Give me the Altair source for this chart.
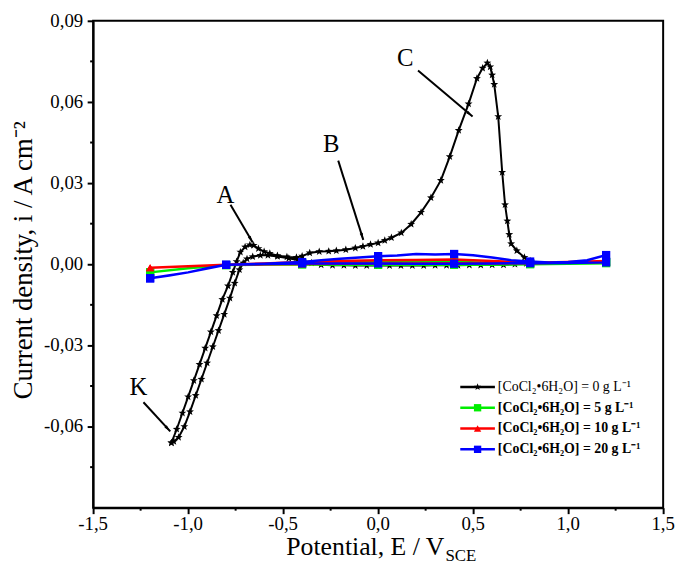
import math
import pandas as pd
import altair as alt

# ---------------- data ----------------
# [CoCl2.6H2O] = 0 g/L  (cyclic voltammogram, ordered along the scan)
E0 = [-1.088, -1.06, -1.03, -1.00, -0.97, -0.94, -0.91, -0.88, -0.85, -0.82,
      -0.79, -0.765, -0.745, -0.725, -0.70, -0.675, -0.655, -0.63, -0.60, -0.57,
      -0.53, -0.48, -0.43, -0.40, -0.36, -0.31, -0.26, -0.22, -0.17, -0.12,
      -0.08, -0.04, 0.00, 0.035, 0.07, 0.122, 0.174, 0.226, 0.278, 0.33,
      0.377, 0.424, 0.476, 0.52, 0.55, 0.575, 0.59, 0.60, 0.611, 0.632,
      0.653, 0.668, 0.68, 0.69, 0.70, 0.73, 0.77, 0.80,
      0.78, 0.72, 0.66, 0.60, 0.54, 0.48, 0.42, 0.36, 0.30, 0.24, 0.18, 0.12,
      0.06, 0.00, -0.06, -0.12, -0.18, -0.24, -0.30, -0.35, -0.42, -0.47,
      -0.53, -0.58, -0.62, -0.66, -0.69, -0.71, -0.73, -0.755, -0.78, -0.81,
      -0.84, -0.87, -0.90, -0.93, -0.96, -0.99, -1.02, -1.05, -1.075, -1.088]
I0 = [-0.066, -0.061, -0.055, -0.049, -0.043, -0.037, -0.031, -0.025, -0.019, -0.013,
      -0.008, -0.003, 0.001, 0.0045, 0.0064, 0.0072, 0.0070, 0.0058, 0.0047, 0.0040,
      0.0032, 0.0027, 0.0025, 0.0030, 0.0042, 0.0047, 0.0048, 0.0050, 0.0054, 0.0060,
      0.0066, 0.0073, 0.0079, 0.0088, 0.0098, 0.0116, 0.0148, 0.0192, 0.0246, 0.0310,
      0.0398, 0.0495, 0.0593, 0.0687, 0.0725, 0.0744, 0.0730, 0.0700, 0.0665, 0.0546,
      0.0340, 0.0220, 0.0160, 0.0110, 0.0076, 0.0050, 0.0025, 0.0012,
      0.0003, 0.0000, -0.0002, -0.0002, -0.0003, -0.0003, -0.0004, -0.0004, -0.0004, -0.0005, -0.0005, -0.0005,
      -0.0005, -0.0005, -0.0005, -0.0005, -0.0004, -0.0004, -0.0002, 0.0005, 0.0015, 0.0022,
      0.0029, 0.0033, 0.0033, 0.0028, 0.0020, 0.0005, -0.0020, -0.0070, -0.0125, -0.0185,
      -0.0245, -0.0305, -0.0365, -0.0425, -0.0485, -0.0545, -0.0600, -0.0640, -0.0655, -0.066]

# [CoCl2.6H2O] = 5 g/L
E5 = [-1.2, -1.0, -0.8, -0.6, -0.4, -0.2, 0.0, 0.2, 0.4, 0.6, 0.8, 1.0, 1.2,
      1.2, 1.0, 0.8, 0.6, 0.4, 0.2, 0.0, -0.2, -0.4, -0.6, -0.8, -1.0, -1.2]
I5 = [-0.0030, -0.0015, -0.0003, 0.0000, 0.0005, 0.0008, 0.0010, 0.0010, 0.0009, 0.0005, 0.0002, 0.0004, 0.0009,
      0.0004, 0.0002, 0.0000, -0.0002, -0.0002, -0.0002, -0.0002, -0.0002, -0.0001, -0.0001, -0.0003, -0.0015, -0.0030]

# [CoCl2.6H2O] = 10 g/L
E10 = [-1.2, -1.0, -0.8, -0.6, -0.4, -0.2, 0.0, 0.2, 0.4, 0.6, 0.8, 1.0, 1.2,
       1.2, 1.0, 0.8, 0.6, 0.4, 0.2, 0.0, -0.2, -0.4, -0.6, -0.8, -1.0, -1.2]
I10 = [-0.0013, -0.0007, -0.0002, 0.0003, 0.0008, 0.0012, 0.0015, 0.0016, 0.0018, 0.0012, 0.0006, 0.0008, 0.0012,
       0.0008, 0.0006, 0.0004, 0.0003, 0.0004, 0.0003, 0.0003, 0.0002, 0.0001, 0.0000, -0.0002, -0.0007, -0.0013]

# [CoCl2.6H2O] = 20 g/L
E20 = [-1.2, -1.1, -1.0, -0.9, -0.8, -0.6, -0.4, -0.3, -0.2, -0.1, 0.0, 0.1, 0.2, 0.3, 0.4,
       0.5, 0.6, 0.7, 0.8, 0.9, 1.0, 1.1, 1.2,
       1.2, 1.0, 0.8, 0.6, 0.4, 0.2, 0.0, -0.2, -0.4, -0.6, -0.8, -1.0, -1.2]
I20 = [-0.0052, -0.0042, -0.0030, -0.0015, -0.0002, 0.0002, 0.0008, 0.0015, 0.0020, 0.0025, 0.0030, 0.0032, 0.0038, 0.0036, 0.0038,
       0.0033, 0.0025, 0.0015, 0.0010, 0.0007, 0.0008, 0.0015, 0.0034,
       0.0007, 0.0005, 0.0004, 0.0003, 0.0002, 0.0002, 0.0003, 0.0003, 0.0003, 0.0001, -0.0002, -0.0030, -0.0052]

legend_labels = ["[CoCl₂•6H₂O] = 0 g L⁻¹", "[CoCl₂•6H₂O] = 5 g L⁻¹",
                 "[CoCl₂•6H₂O] = 10 g L⁻¹", "[CoCl₂•6H₂O] = 20 g L⁻¹"]

# peak annotations
ann_labels = ["A", "B", "C", "K"]
ann_E = [-0.803, -0.247, 0.143, -1.261]
ann_I = [0.0257, 0.0445, 0.0763, -0.0455]
# arrows (start -> end)
arr_E1 = [-0.777, -0.21, 0.21, -1.235]
arr_I1 = [0.0220, 0.0383, 0.0716, -0.0510]
arr_E2 = [-0.660, -0.078, 0.497, -1.094]
arr_I2 = [0.0080, 0.0090, 0.0546, -0.0618]

x_ticks = [-1.5, -1.0, -0.5, 0.0, 0.5, 1.0, 1.5]
x_tick_labels = ["-1,5", "-1,0", "-0,5", "0,0", "0,5", "1,0", "1,5"]
x_minor = [-1.25, -0.75, -0.25, 0.25, 0.75, 1.25]
y_ticks = [-0.06, -0.03, 0.0, 0.03, 0.06, 0.09]
y_tick_labels = ["-0,06", "-0,03", "0,00", "0,03", "0,06", "0,09"]
y_minor = [-0.075, -0.045, -0.015, 0.015, 0.045, 0.075]

x_title = "Potential, E / V"
x_title_sub = "SCE"
y_title = "Current density, i / A cm⁻²"

# ---------------- layout ----------------
W, H = 576, 492
XD = [-1.5, 1.5]
YD = [-0.09, 0.09]
FONT = "Liberation Serif"

xs = alt.Scale(domain=XD, nice=False, zero=False)
ys = alt.Scale(domain=YD, nice=False, zero=False)

x_axis = alt.Axis(values=x_ticks, title=None, labels=False)
y_axis = alt.Axis(values=y_ticks, title=None, labels=False)


def X(f):
    return alt.X(f, type="quantitative", scale=xs, axis=x_axis)


def Y(f):
    return alt.Y(f, type="quantitative", scale=ys, axis=y_axis)


def mk_star():
    pts = []
    for k in range(10):
        a = math.radians(-90 + 36 * k)
        r = 1.0 if k % 2 == 0 else 0.42
        pts.append(f"{r*math.cos(a):.3f},{r*math.sin(a):.3f}")
    return "M" + "L".join(pts) + "Z"


STAR = mk_star()
HEAD = "M0,0L0.42,1.8L-0.42,1.8Z"


def series_df(E, I):
    return pd.DataFrame({"E": E, "i": I, "k": list(range(len(E)))})


layers = []

# black curve
d0 = series_df(E0, I0)
layers.append(alt.Chart(d0).mark_line(color="black", strokeWidth=2)
              .encode(x=X("E"), y=Y("i"), order="k:Q"))
layers.append(alt.Chart(d0).mark_point(shape=STAR, filled=True, color="black", size=70, opacity=1)
              .encode(x=X("E"), y=Y("i")))

# minor ticks
layers.append(alt.Chart(pd.DataFrame({"v": y_minor})).mark_rule(color="black", strokeWidth=2)
              .encode(y=Y("v"), x=alt.value(-3), x2=alt.value(0)))
layers.append(alt.Chart(pd.DataFrame({"v": x_minor})).mark_rule(color="black", strokeWidth=2)
              .encode(x=X("v"), y=alt.value(H), y2=alt.value(H + 3)))

# tick labels (serif text marks)
layers.append(alt.Chart(pd.DataFrame({"v": x_ticks, "t": x_tick_labels}))
              .mark_text(font=FONT, fontSize=19, align="center", baseline="middle", color="black")
              .encode(x=X("v"), y=alt.value(H + 17), text="t:N"))
layers.append(alt.Chart(pd.DataFrame({"v": y_ticks, "t": y_tick_labels}))
              .mark_text(font=FONT, fontSize=19, align="right", baseline="middle", color="black")
              .encode(y=Y("v"), x=alt.value(-10), text="t:N"))

series = [(E5, I5, "#00ee00", "square"), (E10, I10, "#ff0000", "triangle-up"),
          (E20, I20, "#0000ff", "square")]
for E, I, col, shp in series:
    d = series_df(E, I)
    layers.append(alt.Chart(d).mark_line(color=col, strokeWidth=2.5)
                  .encode(x=X("E"), y=Y("i"), order="k:Q"))
    dm = d[[abs(e / 0.4 - round(e / 0.4)) < 1e-6 for e in d["E"]]]
    layers.append(alt.Chart(dm).mark_point(shape=shp, filled=True, color=col, size=70, opacity=1)
                  .encode(x=X("E"), y=Y("i")))

# annotations
da = pd.DataFrame({"t": ann_labels, "E": ann_E, "i": ann_I})
layers.append(alt.Chart(da).mark_text(font=FONT, fontSize=25, color="black", baseline="middle", align="center")
              .encode(x=X("E"), y=Y("i"), text="t:N"))

sx = W / (XD[1] - XD[0])
sy = H / (YD[1] - YD[0])
angs = []
for a, b, c, d in zip(arr_E1, arr_I1, arr_E2, arr_I2):
    dx = (c - a) * sx
    dy = -(d - b) * sy
    angs.append(math.degrees(math.atan2(dx, -dy)) % 360)
dr = pd.DataFrame({"E1": arr_E1, "i1": arr_I1, "E2": arr_E2, "i2": arr_I2, "ang": angs})
layers.append(alt.Chart(dr).mark_rule(color="black", strokeWidth=2)
              .encode(x=X("E1"), y=Y("i1"), x2="E2:Q", y2="i2:Q"))
layers.append(alt.Chart(dr).mark_point(shape=HEAD, filled=True, color="black", size=60, opacity=1)
              .encode(x=X("E2"), y=Y("i2"), angle=alt.Angle("ang:Q", scale=None)))

# custom legend
leg_cols = ["black", "#00ee00", "#ff0000", "#0000ff"]
leg_shapes = [STAR, "square", "triangle-up", "square"]
LX0, LX1, LY0, LDY = 371, 406, 370, 21
one = pd.DataFrame({"a": [0]})
for idx, (lab, col, shp) in enumerate(zip(legend_labels, leg_cols, leg_shapes)):
    yy = LY0 + idx * LDY
    layers.append(alt.Chart(one).mark_rule(color=col, strokeWidth=2.5)
                  .encode(x=alt.value(LX0), x2=alt.value(LX1), y=alt.value(yy)))
    layers.append(alt.Chart(one).mark_point(shape=shp, filled=True, color=col, size=55, opacity=1)
                  .encode(x=alt.value((LX0 + LX1) / 2), y=alt.value(yy)))
    layers.append(alt.Chart(one).mark_text(font=FONT, fontSize=14, align="left", baseline="middle",
                                           fontWeight="normal" if idx == 0 else "bold", color="black")
                  .encode(x=alt.value(LX1 + 3), y=alt.value(yy), text=alt.value(lab)))

# axis titles
layers.append(alt.Chart(one).mark_text(font=FONT, fontSize=26, align="right", baseline="alphabetic", color="black")
              .encode(x=alt.value(355), y=alt.value(H + 48), text=alt.value(x_title)))
layers.append(alt.Chart(one).mark_text(font=FONT, fontSize=17, align="left", baseline="alphabetic", color="black")
              .encode(x=alt.value(356), y=alt.value(H + 54), text=alt.value(x_title_sub)))
layers.append(alt.Chart(one).mark_text(font=FONT, fontSize=27, align="center", baseline="middle", angle=270,
                                       color="black")
              .encode(x=alt.value(-70), y=alt.value(242), text=alt.value(y_title)))

chart = alt.layer(*layers).properties(
    width=W, height=H,
    autosize=alt.AutoSizeParams(type="none"),
    padding={"left": 86, "top": 10, "right": 14, "bottom": 60},
).configure(font=FONT).configure_view(stroke="black", strokeWidth=2).configure_axis(
    grid=False, domainColor="black", domainWidth=2, tickColor="black", tickWidth=2, tickSize=6,
)

chart.save("out.html", embed_options={"renderer": "svg", "actions": False})
